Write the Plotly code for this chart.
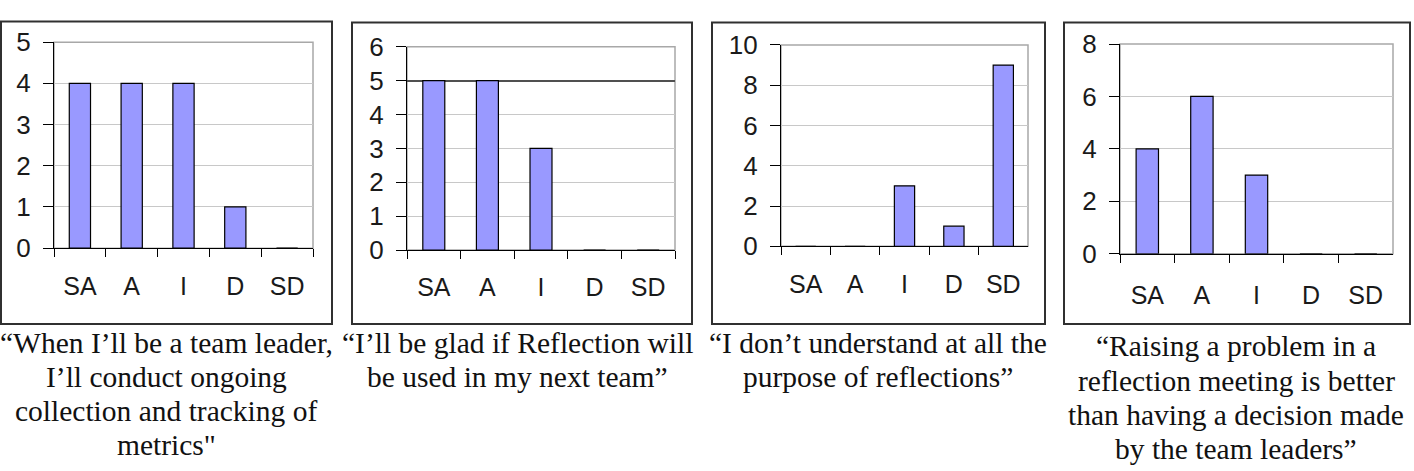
import plotly.graph_objects as go

categories = ["SA", "A", "I", "D", "SD"]
q1_values = [4, 4, 4, 1, 0]
q2_values = [5, 5, 3, 0, 0]
q3_values = [0, 0, 3, 1, 9]
q4_values = [4, 6, 3, 0, 0]
y_max = [5, 6, 10, 8]
y_step = [1, 1, 2, 2]

caption1 = ["\u201cWhen I\u2019ll be a team leader,", "I\u2019ll conduct ongoing",
            "collection and tracking of", "metrics\""]
caption2 = ["\u201cI\u2019ll be glad if Reflection will", "be used in my next team\u201d"]
caption3 = ["\u201cI don\u2019t understand at all the", "purpose of reflections\u201d"]
caption4 = ["\u201cRaising a problem in a", "reflection meeting is better",
            "than having a decision made", "by the team leaders\u201d"]

series = [q1_values, q2_values, q3_values, q4_values]
captions = [caption1, caption2, caption3, caption4]

W, H = 1414, 471
# layout geometry in pixels
plot_x = [(54, 313), (407, 675), (781, 1028), (1120, 1393)]
plot_y = [(29, 249), (34, 251), (32, 247), (31, 255)]
boxes = [(1, 332, 7, 330), (352, 692, 8, 330), (712, 1045, 8, 330), (1064, 1410, 8, 330)]
cap_x = [166, 517, 878, 1236]
cap_y0 = [350, 350, 350, 354]
cap_dy = 36.5
xlab_standoff = [16, 15, 16, 19]

fig = go.Figure()
layout = dict(
    width=W, height=H, margin=dict(l=0, r=0, t=0, b=0),
    paper_bgcolor="white", plot_bgcolor="white", showlegend=False,
    bargap=0.59, shapes=[], annotations=[],
    font=dict(family="Liberation Sans, Arial", size=25, color="#1a1a1a"),
)

for i, vals in enumerate(series):
    n = i + 1
    xa = "x" if n == 1 else f"x{n}"
    ya = "y" if n == 1 else f"y{n}"
    fig.add_trace(go.Bar(
        x=categories, y=vals, xaxis=xa, yaxis=ya,
        marker=dict(color="#9999FF", line=dict(color="#000000", width=1.2)),
        hoverinfo="skip",
    ))
    x0, x1 = plot_x[i]
    yt, yb = plot_y[i]
    layout[f"xaxis{'' if n == 1 else n}"] = dict(
        domain=[x0 / W, x1 / W], anchor=ya, type="category",
        showline=True, linecolor="#000000", linewidth=1.3,
        ticks="outside", ticklen=8, tickcolor="#000000", tickwidth=1.3,
        tickson="boundaries", showgrid=False, zeroline=False,
        ticklabelstandoff=xlab_standoff[i], fixedrange=True,
        tickfont=dict(size=25),
    )
    layout[f"yaxis{'' if n == 1 else n}"] = dict(
        domain=[(H - yb) / H, (H - yt) / H], anchor=xa,
        range=[0, y_max[i]], dtick=y_step[i], tick0=0,
        showline=True, linecolor="#000000", linewidth=1.3,
        ticks="outside", ticklen=10, tickcolor="#000000", tickwidth=1.3,
        showgrid=True, gridcolor="#c8c8c8", gridwidth=1.2, zeroline=False,
        ticklabelstandoff=7, fixedrange=True,
        tickfont=dict(size=26),
    )
    # plot-area border (gray, top/right)
    layout["shapes"].append(dict(
        type="rect", xref=f"{xa} domain", yref=f"{ya} domain",
        x0=0, x1=1, y0=0, y1=1, line=dict(color="#a8a8a8", width=1.5),
        layer="below",
    ))
    # outer frame
    bx0, bx1, by0, by1 = boxes[i]
    layout["shapes"].append(dict(
        type="rect", xref="paper", yref="paper",
        x0=bx0 / W, x1=bx1 / W, y0=(H - by1) / H, y1=(H - by0) / H,
        line=dict(color="#303030", width=2),
    ))
    # caption lines
    for k, line in enumerate(captions[i]):
        layout["annotations"].append(dict(
            text=line, xref="paper", yref="paper",
            x=cap_x[i] / W, y=(H - (cap_y0[i] + k * cap_dy)) / H,
            xanchor="center", yanchor="middle", showarrow=False,
            font=dict(family="Liberation Serif, Times New Roman", size=29.5, color="#111111"),
        ))

# darker gridline at 5 in the second chart (as in the original)
layout["yaxis5"] = dict(
    overlaying="y2", anchor="x2", range=[0, y_max[1]], tickvals=[5, 6],
    showgrid=True, gridcolor="#505050", gridwidth=1.5, showticklabels=False,
    ticks="", showline=False, zeroline=False, fixedrange=True,
)
fig.add_trace(go.Scatter(x=[categories[0]], y=[None], xaxis="x2", yaxis="y5",
                         mode="markers", hoverinfo="skip", showlegend=False))

fig.update_layout(**layout)
fig.write_html("out.html", config={"displayModeBar": False})
